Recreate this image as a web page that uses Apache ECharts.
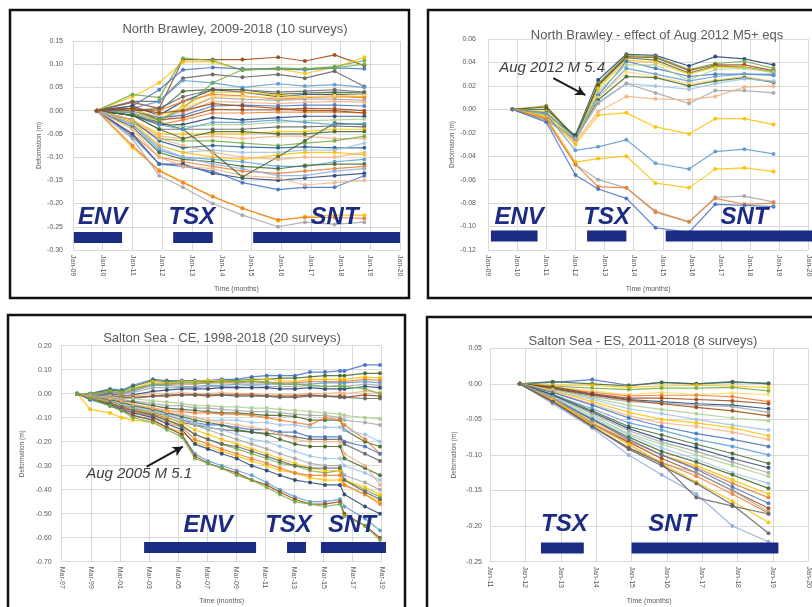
<!DOCTYPE html>
<html><head><meta charset="utf-8">
<script src="https://cdn.jsdelivr.net/npm/echarts@6/dist/echarts.min.js"></script>
<style>html,body{margin:0;padding:0;background:#fff}#c{width:812px;height:607px}</style>
</head><body><div id="c"></div><script>
// ---------------- DATA ----------------
// Panel 1: North Brawley, 2009-2018 (10 surveys)
const p1Title = 'North Brawley, 2009-2018 (10 surveys)';
const p1Times = [2009.8, 2011.0, 2011.9, 2012.7, 2013.7, 2014.7, 2015.9, 2016.8, 2017.8, 2018.8];
const p1Lines = [
 [0, 0.018, 0.005, 0.11, 0.11, 0.11, 0.115, 0.107, 0.12, 0.097],
 [0, 0.03, 0.06, 0.105, 0.105, 0.088, 0.09, 0.08, 0.093, 0.115],
 [0, 0.035, 0.028, 0.113, 0.108, 0.087, 0.092, 0.09, 0.095, 0.108],
 [0, 0.01, 0.045, 0.088, 0.093, 0.09, 0.09, 0.088, 0.092, 0.09],
 [0, 0.02, 0.02, 0.07, 0.078, 0.072, 0.078, 0.07, 0.085, 0.052],
 [0, 0.005, 0.02, 0.065, 0.06, 0.05, 0.058, 0.053, 0.056, 0.05],
 [0, 0.0, 0.0, 0.042, 0.046, 0.045, 0.035, 0.038, 0.04, 0.038],
 [0, 0.01, -0.01, 0.02, 0.045, 0.04, 0.03, 0.035, 0.035, 0.035],
 [0, -0.01, -0.02, 0.01, 0.04, 0.04, 0.033, 0.03, 0.032, 0.03],
 [0, 0.005, 0.0, 0.02, 0.035, 0.032, 0.025, 0.028, 0.03, 0.028],
 [0, -0.005, -0.02, 0.0, 0.028, 0.025, 0.022, 0.025, 0.025, 0.022],
 [0, 0.0, -0.025, -0.005, 0.02, 0.018, 0.015, 0.018, 0.02, 0.018],
 [0, 0.0, -0.015, -0.01, 0.01, 0.012, 0.01, 0.012, 0.012, 0.01],
 [0, 0.005, -0.02, -0.015, 0.003, 0.002, 0.002, 0.005, 0.004, 0.0],
 [0, -0.005, -0.03, -0.02, -0.005, -0.005, -0.003, -0.003, -0.003, -0.005],
 [0, -0.01, -0.03, -0.03, -0.015, -0.02, -0.015, -0.012, -0.012, -0.012],
 [0, -0.005, -0.025, -0.035, -0.03, -0.03, -0.025, -0.022, -0.02, -0.018],
 [0, -0.01, -0.04, -0.04, -0.04, -0.04, -0.035, -0.035, -0.033, -0.035],
 [0, -0.02, -0.05, -0.05, -0.05, -0.05, -0.045, -0.045, -0.04, -0.04],
 [0, -0.02, -0.055, -0.06, -0.055, -0.06, -0.055, -0.055, -0.06, -0.06],
 [0, -0.025, -0.06, -0.065, -0.065, -0.07, -0.075, -0.07, -0.065, -0.055],
 [0, -0.02, -0.065, -0.08, -0.075, -0.078, -0.08, -0.078, -0.08, -0.08],
 [0, -0.03, -0.075, -0.09, -0.085, -0.09, -0.09, -0.085, -0.085, -0.07],
 [0, -0.025, -0.075, -0.09, -0.1, -0.105, -0.095, -0.09, -0.09, -0.095],
 [0, -0.03, -0.085, -0.1, -0.105, -0.11, -0.12, -0.12, -0.11, -0.105],
 [0, -0.035, -0.09, -0.105, -0.11, -0.12, -0.125, -0.118, -0.115, -0.115],
 [0, -0.05, -0.1, -0.11, -0.12, -0.13, -0.135, -0.13, -0.125, -0.12],
 [0, -0.05, -0.115, -0.115, -0.135, -0.145, -0.15, -0.145, -0.14, -0.135],
 [0, -0.055, -0.115, -0.12, -0.13, -0.155, -0.17, -0.165, -0.165, -0.14],
 [0, -0.04, -0.1, -0.12, -0.125, -0.14, -0.145, -0.16, -0.155, -0.15],
 [0, -0.08, -0.128, -0.153, -0.185, -0.21, -0.237, -0.228, -0.225, -0.225],
 [0, -0.075, -0.13, -0.155, -0.185, -0.21, -0.235, -0.23, -0.23, -0.232],
 [0, -0.06, -0.14, -0.165, -0.2, -0.225, -0.25, -0.24, -0.245, -0.24],
 [0, -0.01, -0.025, -0.04, -0.09, -0.143, -0.099, -0.065, -0.027, -0.03],
 [0, 0.0, -0.02, 0.005, 0.06, 0.088, 0.09, 0.09, 0.092, 0.1],
 [0, 0.0, -0.01, 0.005, 0.03, 0.03, 0.028, 0.03, 0.032, 0.035],
 [0, -0.005, -0.03, -0.04, -0.025, -0.025, -0.02, -0.025, -0.03, -0.028],
 [0, -0.01, -0.04, -0.06, -0.045, -0.045, -0.05, -0.05, -0.045, -0.045],
 [0, -0.02, -0.06, -0.075, -0.09, -0.1, -0.105, -0.1, -0.1, -0.09],
 [0, -0.03, -0.08, -0.1, -0.115, -0.125, -0.14, -0.14, -0.13, -0.125],
 [0, 0.0, 0.005, 0.03, 0.045, 0.045, 0.04, 0.042, 0.045, 0.04],
 [0, 0.005, -0.005, 0.0, 0.015, 0.01, 0.005, 0.0, 0.0, -0.005]
];
const p1Colors = ['DO','Y','N','B','DG','L','DN','DB','Y','O','G','LO','B','DO','O','DB','LN','DG','Y','LO','N','DL','LL','Y','L','DN','O','DB','B','LO','Y','O','G','DN','N','LY','L','DN','LO','LB','DG','DO'];
const p1Missions = ['ENV', 'TSX', 'SNT'];
const p1MissionStart = [2009.03, 2012.37, 2015.06];
const p1MissionEnd = [2010.65, 2013.7, 2020.0];
const p1MissionBarY = -0.273;
const p1MissionLabelX = [2010.0, 2013.0, 2017.8];
const p1MissionLabelY = -0.229;

// Panel 2: North Brawley - effect of Aug 2012 M5+ eqs
const p2Title = 'North Brawley - effect of Aug 2012 M5+ eqs';
const p2Times = [2009.84, 2011.0, 2012.0, 2012.78, 2013.75, 2014.75, 2015.9, 2016.8, 2017.8, 2018.8];
const p2Lines = [
 [0, -0.005, -0.022, 0.025, 0.047, 0.046, 0.037, 0.045, 0.043, 0.038],
 [0, 0.003, -0.024, 0.022, 0.046, 0.045, 0.034, 0.039, 0.041, 0.035],
 [0, 0.002, -0.025, 0.021, 0.045, 0.044, 0.033, 0.038, 0.038, 0.033],
 [0, 0.0, -0.023, 0.02, 0.044, 0.042, 0.031, 0.037, 0.036, 0.032],
 [0, -0.002, -0.026, 0.018, 0.042, 0.04, 0.03, 0.036, 0.036, 0.031],
 [0, -0.003, -0.024, 0.012, 0.041, 0.035, 0.028, 0.03, 0.03, 0.029],
 [0, -0.004, -0.025, 0.015, 0.038, 0.038, 0.025, 0.034, 0.035, 0.032],
 [0, -0.006, -0.026, 0.01, 0.035, 0.03, 0.024, 0.028, 0.03, 0.03],
 [0, -0.005, -0.027, 0.01, 0.032, 0.028, 0.022, 0.025, 0.028, 0.024],
 [0, -0.008, -0.026, 0.008, 0.028, 0.027, 0.02, 0.024, 0.027, 0.023],
 [0, -0.01, -0.025, 0.006, 0.022, 0.02, 0.017, 0.022, 0.026, 0.024],
 [0, -0.009, -0.025, 0.005, 0.022, 0.014, 0.005, 0.016, 0.016, 0.014],
 [0, -0.007, -0.028, -0.002, 0.011, 0.009, 0.008, 0.011, 0.019, 0.02],
 [0, -0.006, -0.03, -0.005, -0.003, -0.015, -0.021, -0.008, -0.008, -0.013],
 [0, -0.004, -0.035, -0.032, -0.026, -0.046, -0.051, -0.036, -0.034, -0.038],
 [0, -0.007, -0.045, -0.042, -0.04, -0.063, -0.067, -0.051, -0.05, -0.053],
 [0, -0.01, -0.047, -0.06, -0.067, -0.088, -0.096, -0.075, -0.074, -0.079],
 [0, -0.008, -0.047, -0.066, -0.067, -0.087, -0.096, -0.076, -0.081, -0.08],
 [0, -0.011, -0.056, -0.068, -0.076, -0.101, -0.105, -0.081, -0.082, -0.083]
];
const p2Colors = ['DB','N','DO','DN','Y','B','LN','L','LY','DN','LL','G','LO','Y','L','Y','G','O','B'];
const p2Missions = ['ENV', 'TSX', 'SNT'];
const p2MissionStart = [2009.1, 2012.4, 2015.1];
const p2MissionEnd = [2010.7, 2013.75, 2021.0];
const p2MissionBarY = -0.108;
const p2MissionLabelX = [2010.07, 2013.07, 2017.8];
const p2MissionLabelY = -0.092;
const p2NoteText = 'Aug 2012 M 5.4';
const p2NoteAt = [2011.2, 0.0352];
const p2ArrowFrom = [2011.24, 0.0267];
const p2ArrowTo = [2012.34, 0.0122];

// Panel 3: Salton Sea - CE, 1998-2018 (20 surveys)
const p3Title = 'Salton Sea - CE, 1998-2018 (20 surveys)';
const p3AxisStart = 1997.1667; // Mar-97
const p3Times = [1998.24, 1999.12, 2000.49, 2001.29, 2002.07, 2003.44, 2004.39, 2005.42, 2006.33, 2007.22, 2008.17,
                 2009.2, 2010.23, 2011.26, 2012.17, 2013.2, 2014.24, 2015.27, 2016.3, 2016.6, 2018.02, 2019.05];
const p3Lines = [
 [0, 0.0, 0.02, 0.015, 0.035, 0.06, 0.055, 0.055, 0.055, 0.055, 0.06, 0.06, 0.07, 0.075, 0.075, 0.075, 0.09, 0.09, 0.095, 0.095, 0.12, 0.12],
 [0, 0.0, 0.015, 0.01, 0.03, 0.055, 0.05, 0.05, 0.05, 0.05, 0.055, 0.055, 0.06, 0.06, 0.065, 0.065, 0.07, 0.075, 0.075, 0.075, 0.085, 0.085],
 [0, -0.005, 0.01, 0.005, 0.02, 0.05, 0.045, 0.05, 0.05, 0.055, 0.055, 0.05, 0.055, 0.06, 0.055, 0.05, 0.06, 0.06, 0.06, 0.06, 0.07, 0.065],
 [0, 0.0, 0.005, 0.0, 0.015, 0.04, 0.04, 0.04, 0.04, 0.045, 0.045, 0.045, 0.05, 0.045, 0.045, 0.045, 0.05, 0.05, 0.05, 0.05, 0.06, 0.055],
 [0, -0.005, 0.005, 0.0, 0.01, 0.035, 0.035, 0.03, 0.03, 0.035, 0.035, 0.04, 0.04, 0.04, 0.04, 0.04, 0.04, 0.045, 0.045, 0.045, 0.05, 0.045],
 [0, 0.0, 0.0, -0.005, 0.005, 0.025, 0.025, 0.025, 0.025, 0.03, 0.03, 0.03, 0.035, 0.03, 0.03, 0.03, 0.035, 0.03, 0.035, 0.03, 0.04, 0.035],
 [0, -0.01, 0.0, -0.01, -0.005, 0.01, 0.015, 0.02, 0.02, 0.02, 0.025, 0.025, 0.025, 0.025, 0.02, 0.02, 0.025, 0.02, 0.02, 0.02, 0.03, 0.025],
 [0, -0.01, -0.005, -0.01, -0.01, 0.0, 0.0, 0.005, 0.0, 0.0, 0.005, 0.0, 0.0, -0.005, -0.005, -0.005, 0.0, 0.0, 0.005, 0.0, 0.01, 0.005],
 [0, -0.01, -0.01, -0.015, -0.015, -0.01, -0.01, -0.005, -0.005, -0.01, -0.005, -0.005, -0.005, -0.01, -0.01, -0.01, -0.005, -0.01, -0.01, -0.015, -0.005, -0.01],
 [0, -0.01, -0.005, -0.02, -0.02, -0.01, -0.005, -0.005, -0.005, -0.005, -0.005, -0.01, -0.01, -0.01, -0.015, -0.015, -0.01, -0.01, -0.015, -0.015, -0.02, -0.02],
 [0, 0.0, 0.01, 0.005, 0.02, 0.04, 0.04, 0.045, 0.045, 0.045, 0.05, 0.05, 0.05, 0.05, 0.04, 0.04, 0.035, 0.03, 0.03, 0.03, 0.02, 0.0],
 [0, -0.01, -0.01, -0.02, -0.02, -0.03, -0.035, -0.04, -0.05, -0.05, -0.055, -0.055, -0.06, -0.06, -0.065, -0.07, -0.075, -0.08, -0.085, -0.09, -0.1, -0.105],
 [0, -0.01, -0.015, -0.025, -0.03, -0.04, -0.05, -0.05, -0.06, -0.06, -0.065, -0.07, -0.075, -0.075, -0.08, -0.085, -0.09, -0.09, -0.1, -0.11, -0.12, -0.13],
 [0, -0.01, -0.02, -0.03, -0.035, -0.05, -0.06, -0.065, -0.07, -0.075, -0.08, -0.08, -0.085, -0.09, -0.09, -0.095, -0.11, -0.11, -0.11, -0.15, -0.2, -0.22],
 [0, -0.015, -0.025, -0.04, -0.045, -0.06, -0.07, -0.075, -0.08, -0.08, -0.085, -0.085, -0.09, -0.1, -0.11, -0.12, -0.13, -0.1, -0.11, -0.13, -0.19, -0.25],
 [0, -0.02, -0.03, -0.045, -0.05, -0.07, -0.08, -0.09, -0.1, -0.11, -0.11, -0.11, -0.12, -0.12, -0.13, -0.13, -0.14, -0.14, -0.14, -0.15, -0.17, -0.2],
 [0, -0.02, -0.03, -0.05, -0.06, -0.08, -0.09, -0.11, -0.12, -0.13, -0.13, -0.14, -0.15, -0.15, -0.16, -0.16, -0.18, -0.18, -0.18, -0.2, -0.22, -0.25],
 [0, -0.02, -0.035, -0.05, -0.065, -0.085, -0.1, -0.12, -0.13, -0.14, -0.15, -0.155, -0.16, -0.165, -0.17, -0.18, -0.19, -0.19, -0.19, -0.21, -0.25, -0.28],
 [0, -0.065, -0.08, -0.1, -0.11, -0.12, -0.14, -0.16, -0.2, -0.22, -0.24, -0.26, -0.28, -0.3, -0.32, -0.33, -0.35, -0.36, -0.36, -0.38, -0.42, -0.45],
 [0, -0.02, -0.04, -0.06, -0.07, -0.09, -0.11, -0.13, -0.17, -0.19, -0.21, -0.23, -0.25, -0.27, -0.29, -0.3, -0.32, -0.33, -0.32, -0.36, -0.4, -0.43],
 [0, -0.02, -0.045, -0.06, -0.075, -0.095, -0.12, -0.14, -0.19, -0.21, -0.23, -0.25, -0.27, -0.29, -0.31, -0.33, -0.34, -0.34, -0.34, -0.38, -0.42, -0.46],
 [0, -0.025, -0.045, -0.065, -0.08, -0.1, -0.125, -0.15, -0.21, -0.23, -0.25, -0.27, -0.3, -0.32, -0.34, -0.36, -0.37, -0.38, -0.38, -0.42, -0.47, -0.5],
 [0, -0.025, -0.05, -0.07, -0.09, -0.11, -0.14, -0.17, -0.25, -0.28, -0.3, -0.32, -0.34, -0.37, -0.4, -0.43, -0.45, -0.45, -0.44, -0.47, -0.52, -0.57],
 [0, -0.02, -0.05, -0.07, -0.09, -0.11, -0.14, -0.17, -0.26, -0.29, -0.31, -0.33, -0.36, -0.38, -0.41, -0.44, -0.46, -0.46, -0.45, -0.5, -0.55, -0.6],
 [0, -0.015, -0.035, -0.05, -0.065, -0.08, -0.1, -0.12, -0.15, -0.17, -0.19, -0.21, -0.23, -0.25, -0.27, -0.29, -0.31, -0.32, -0.32, -0.36, -0.39, -0.42],
 [0, -0.015, -0.03, -0.045, -0.06, -0.075, -0.09, -0.11, -0.13, -0.15, -0.17, -0.19, -0.21, -0.23, -0.25, -0.27, -0.29, -0.3, -0.3, -0.34, -0.37, -0.4],
 [0, -0.01, -0.025, -0.04, -0.055, -0.07, -0.085, -0.1, -0.12, -0.14, -0.15, -0.17, -0.19, -0.2, -0.22, -0.24, -0.26, -0.27, -0.27, -0.3, -0.33, -0.36],
 [0, -0.01, -0.025, -0.035, -0.05, -0.065, -0.08, -0.095, -0.11, -0.12, -0.13, -0.15, -0.16, -0.17, -0.19, -0.21, -0.22, -0.22, -0.22, -0.27, -0.31, -0.34],
 [0, -0.01, -0.02, -0.03, -0.045, -0.06, -0.075, -0.085, -0.1, -0.11, -0.12, -0.13, -0.14, -0.15, -0.17, -0.19, -0.2, -0.2, -0.2, -0.25, -0.3, -0.38],
 [0, -0.02, -0.04, -0.055, -0.07, -0.09, -0.11, -0.135, -0.17, -0.19, -0.21, -0.22, -0.24, -0.26, -0.28, -0.3, -0.31, -0.31, -0.31, -0.36, -0.41, -0.44],
 [0, -0.02, -0.05, -0.07, -0.1, -0.12, -0.15, -0.18, -0.27, -0.29, -0.31, -0.34, -0.36, -0.39, -0.42, -0.45, -0.46, -0.47, -0.46, -0.51, -0.55, -0.61]
];
const p3Colors = ['B','DN','Y','O','L','G','DB','LO','DO','DG','N','LN','G','DN','O','LL','B','DG','Y','N','O','DB','L','DO','Y','G','LL','DN','LO','DG','N'];
const p3Missions = ['ENV', 'TSX', 'SNT'];
const p3MissionStart = [2002.83, 2012.66, 2014.99];
const p3MissionEnd = [2010.53, 2013.96, 2019.46];
const p3MissionBarY = -0.641;
const p3MissionLabelX = [2007.23, 2012.76, 2017.12];
const p3MissionLabelY = -0.548;
const p3NoteText = 'Aug 2005 M 5.1';
const p3NoteAt = [2002.49, -0.332];
const p3ArrowFrom = [2003.01, -0.304];
const p3ArrowTo = [2005.49, -0.221];

// Panel 4: Salton Sea - ES, 2011-2018 (8 surveys)
const p4Title = 'Salton Sea - ES, 2011-2018 (8 surveys)';
const p4Times = [2011.84, 2012.77, 2013.89, 2014.92, 2015.85, 2016.83, 2017.85, 2018.87];
const p4Lines = [
 [0, 0.002, 0.006, -0.002, 0.002, 0.0, 0.002, 0.001],
 [0, 0.003, 0.0, -0.003, 0.002, 0.0, 0.003, 0.0],
 [0, -0.002, -0.002, -0.005, -0.003, -0.002, -0.003, -0.005],
 [0, -0.003, -0.006, -0.008, -0.006, -0.006, -0.005, -0.01],
 [0, -0.004, -0.01, -0.015, -0.012, -0.015, -0.013, -0.015],
 [0, -0.005, -0.012, -0.017, -0.016, -0.016, -0.018, -0.025],
 [0, -0.004, -0.014, -0.02, -0.02, -0.022, -0.024, -0.028],
 [0, -0.006, -0.015, -0.022, -0.025, -0.028, -0.03, -0.035],
 [0, -0.008, -0.018, -0.025, -0.027, -0.03, -0.032, -0.04],
 [0, -0.007, -0.016, -0.023, -0.028, -0.033, -0.038, -0.045],
 [0, -0.008, -0.02, -0.03, -0.036, -0.042, -0.048, -0.052],
 [0, -0.01, -0.022, -0.035, -0.042, -0.05, -0.058, -0.065],
 [0, -0.01, -0.025, -0.04, -0.05, -0.055, -0.062, -0.073],
 [0, -0.012, -0.028, -0.045, -0.055, -0.06, -0.068, -0.078],
 [0, -0.012, -0.03, -0.048, -0.06, -0.07, -0.078, -0.088],
 [0, -0.015, -0.035, -0.055, -0.065, -0.078, -0.088, -0.1],
 [0, -0.015, -0.038, -0.06, -0.072, -0.085, -0.098, -0.112],
 [0, -0.016, -0.04, -0.063, -0.078, -0.09, -0.105, -0.118],
 [0, -0.018, -0.042, -0.066, -0.082, -0.095, -0.11, -0.125],
 [0, -0.02, -0.045, -0.07, -0.085, -0.1, -0.115, -0.13],
 [0, -0.02, -0.048, -0.072, -0.09, -0.106, -0.125, -0.14],
 [0, -0.022, -0.05, -0.075, -0.095, -0.11, -0.128, -0.147],
 [0, -0.022, -0.052, -0.078, -0.1, -0.115, -0.135, -0.155],
 [0, -0.022, -0.055, -0.08, -0.1, -0.118, -0.14, -0.16],
 [0, -0.02, -0.05, -0.078, -0.1, -0.12, -0.145, -0.168],
 [0, -0.025, -0.057, -0.082, -0.105, -0.125, -0.15, -0.175],
 [0, -0.02, -0.055, -0.085, -0.112, -0.125, -0.15, -0.18],
 [0, -0.025, -0.06, -0.09, -0.11, -0.13, -0.155, -0.182],
 [0, -0.022, -0.058, -0.085, -0.112, -0.138, -0.165, -0.195],
 [0, -0.025, -0.06, -0.092, -0.115, -0.14, -0.17, -0.21],
 [0, -0.028, -0.062, -0.1, -0.128, -0.155, -0.2, -0.222],
 [0, -0.025, -0.06, -0.09, -0.112, -0.16, -0.172, -0.183]
];
const p4Colors = ['B','DN','Y','N','LY','O','DO','DB','G','DO','LN','LL','Y','LO','B','L','DN','DB','G','LN','LL','DN','Y','O','B','DO','G','O','Y','DG','LB','DG'];
const p4Missions = ['TSX', 'SNT'];
const p4MissionStart = [2012.44, 2015.0];
const p4MissionEnd = [2013.65, 2019.15];
const p4MissionBarY = -0.231;
const p4MissionLabelX = [2013.1, 2016.15];
const p4MissionLabelY = -0.198;

// ---------------- STYLE / BUILD ----------------
const COL = {B:'#4472C4',O:'#ED7D31',G:'#A5A5A5',Y:'#FFC000',L:'#5B9BD5',N:'#70AD47',
  DB:'#264478',DO:'#9E480E',DG:'#636363',DY:'#997300',DL:'#255E91',DN:'#43682B',
  LB:'#8FAADC',LO:'#F4B183',LG:'#C9C9C9',LY:'#FFD966',LL:'#9DC3E6',LN:'#A9D18E'};
const NAVY = '#1c2b84';
const FONT = 'Liberation Sans, Arial, sans-serif';
const GRID_COL = '#d9d9d9';
const TXT = '#595959';

function lines(times, rows, colors, gi, shift) {
  return rows.map((r, i) => {
    const c = COL[colors[i % colors.length]];
    return {
      type: 'line', xAxisIndex: gi, yAxisIndex: gi, silent: true, z: 2,
      data: r.map((v, k) => [times[k] - shift, v]),
      symbol: 'circle', symbolSize: 4,
      lineStyle: { width: 1.2, color: c, opacity: 0.85 },
      itemStyle: { color: c, opacity: 0.9 }
    };
  });
}
function missions(names, st, en, barY, lx, ly, gi, shift) {
  const out = names.map((n, i) => ({
    type: 'line', xAxisIndex: gi, yAxisIndex: gi, silent: true, z: 10, clip: false,
    data: [[st[i] - shift, barY], [en[i] - shift, barY]], symbol: 'none',
    lineStyle: { width: 11, color: NAVY, cap: 'butt' }
  }));
  out.push({
    type: 'scatter', xAxisIndex: gi, yAxisIndex: gi, silent: true, z: 11, clip: false,
    symbolSize: 1, itemStyle: { color: 'rgba(0,0,0,0)' },
    data: names.map((n, i) => ({ name: n, value: [lx[i] - shift, ly] })),
    label: { show: true, position: 'inside', formatter: '{b}', color: NAVY, opacity: 1,
      fontFamily: FONT, fontSize: 24, fontWeight: 'bold', fontStyle: 'italic' }
  });
  return out;
}
function note(text, at, from, to, gi, shift) {
  return [{
    type: 'scatter', xAxisIndex: gi, yAxisIndex: gi, silent: true, z: 12, clip: false,
    symbolSize: 1, itemStyle: { color: 'rgba(0,0,0,0)' },
    data: [{ name: text, value: [at[0] - shift, at[1]] }],
    label: { show: true, position: 'inside', formatter: '{b}', color: '#404040', opacity: 1,
      fontFamily: FONT, fontSize: 15, fontStyle: 'italic' }
  }, {
    type: 'line', xAxisIndex: gi, yAxisIndex: gi, silent: true, z: 12, data: [],
    markLine: { silent: true, symbol: ['none', 'arrow'], symbolSize: [8, 10], animation: false,
      label: { show: false }, lineStyle: { color: '#1a1a1a', width: 2, type: 'solid' },
      data: [[{ coord: [from[0] - shift, from[1]] }, { coord: [to[0] - shift, to[1]] }]] }
  }];
}

const grids = [
  { left: 73, top: 41, width: 327, height: 209 },
  { left: 488, top: 39, width: 329, height: 211 },
  { left: 61.7, top: 345.7, width: 320, height: 216 },
  { left: 490, top: 348.3, width: 322, height: 213.3 }
];
const yr2 = v => String(Math.round(v) % 100).padStart(2, '0');
function xAxis(gi, min, max, interval, fmt) {
  return {
    type: 'value', gridIndex: gi, min, max, interval,
    name: 'Time (months)', nameLocation: 'middle', nameGap: 36,
    nameTextStyle: { color: TXT, fontFamily: FONT, fontSize: 7 },
    axisLine: { show: true, lineStyle: { color: GRID_COL } }, axisTick: { show: false },
    splitLine: { show: true, lineStyle: { color: GRID_COL, width: 1 } },
    axisLabel: { rotate: -90, color: TXT, fontFamily: FONT, fontSize: 7, margin: 5,
      showMinLabel: true, showMaxLabel: true, formatter: fmt }
  };
}
function yAxis(gi, min, max, interval, gap, margin) {
  return {
    type: 'value', gridIndex: gi, min, max, interval,
    name: 'Deformation (m)', nameLocation: 'middle', nameGap: gap, nameRotate: 90,
    nameTextStyle: { color: TXT, fontFamily: FONT, fontSize: 6.5 },
    axisLine: { show: false }, axisTick: { show: false },
    splitLine: { show: true, lineStyle: { color: GRID_COL, width: 1 } },
    axisLabel: { color: TXT, fontFamily: FONT, fontSize: 7, margin: margin,
      formatter: v => v.toFixed(2) }
  };
}

const titleStyle = { color: TXT, fontFamily: FONT, fontSize: 13, fontWeight: 'normal' };
const option = {
  animation: false,
  backgroundColor: '#ffffff',
  title: [
    { text: p1Title, left: 230, top: 18, textAlign: 'center', textStyle: titleStyle },
    { text: p2Title, left: 652, top: 24, textAlign: 'center', textStyle: titleStyle },
    { text: p3Title, left: 217, top: 327, textAlign: 'center', textStyle: titleStyle },
    { text: p4Title, left: 638, top: 330, textAlign: 'center', textStyle: titleStyle }
  ],
  grid: grids,
  xAxis: [
    xAxis(0, 2009, 2020, 1, v => 'Jan-' + yr2(v)),
    xAxis(1, 2009, 2020, 1, v => 'Jan-' + yr2(v)),
    xAxis(2, 0, 22, 2, v => 'Mar-' + yr2(1997 + v)),
    xAxis(3, 2011, 2020, 1, v => 'Jan-' + yr2(v))
  ],
  yAxis: [
    yAxis(0, -0.30, 0.15, 0.05, 30, 10),
    yAxis(1, -0.12, 0.06, 0.02, 30, 12),
    yAxis(2, -0.70, 0.20, 0.10, 36, 10),
    yAxis(3, -0.25, 0.05, 0.05, 32, 8)
  ],
  graphic: [
    { type: 'rect', shape: { x: 10, y: 10, width: 399, height: 288 }, style: { fill: 'none', stroke: '#111', lineWidth: 2.5 }, z: 100 },
    { type: 'rect', shape: { x: 428, y: 10, width: 400, height: 288 }, style: { fill: 'none', stroke: '#111', lineWidth: 2.5 }, z: 100 },
    { type: 'rect', shape: { x: 8, y: 315, width: 397, height: 310 }, style: { fill: 'none', stroke: '#111', lineWidth: 2.5 }, z: 100 },
    { type: 'rect', shape: { x: 427, y: 317, width: 400, height: 310 }, style: { fill: 'none', stroke: '#111', lineWidth: 2.5 }, z: 100 }
  ],
  series: [].concat(
    lines(p1Times, p1Lines, p1Colors, 0, 0),
    missions(p1Missions, p1MissionStart, p1MissionEnd, p1MissionBarY, p1MissionLabelX, p1MissionLabelY, 0, 0),
    lines(p2Times, p2Lines, p2Colors, 1, 0),
    missions(p2Missions, p2MissionStart, p2MissionEnd, p2MissionBarY, p2MissionLabelX, p2MissionLabelY, 1, 0),
    note(p2NoteText, p2NoteAt, p2ArrowFrom, p2ArrowTo, 1, 0),
    lines(p3Times, p3Lines, p3Colors, 2, p3AxisStart),
    missions(p3Missions, p3MissionStart, p3MissionEnd, p3MissionBarY, p3MissionLabelX, p3MissionLabelY, 2, p3AxisStart),
    note(p3NoteText, p3NoteAt, p3ArrowFrom, p3ArrowTo, 2, p3AxisStart),
    lines(p4Times, p4Lines, p4Colors, 3, 0),
    missions(p4Missions, p4MissionStart, p4MissionEnd, p4MissionBarY, p4MissionLabelX, p4MissionLabelY, 3, 0)
  )
};
const chart = echarts.init(document.getElementById('c'), null, { renderer: 'canvas' });
chart.setOption(option);
</script></body></html>
